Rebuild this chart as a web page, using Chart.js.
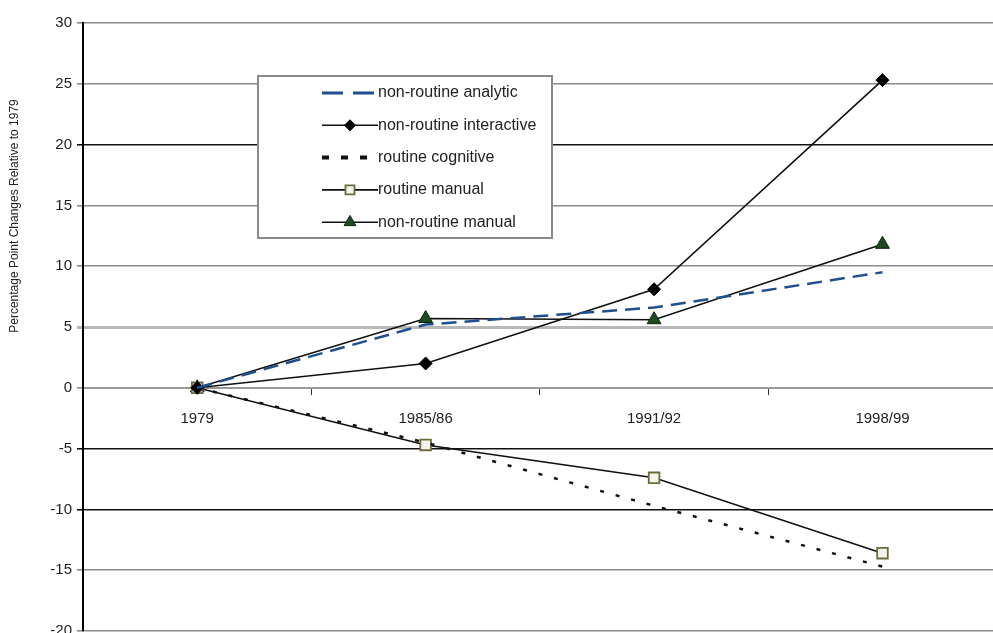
<!DOCTYPE html>
<html>
<head>
<meta charset="utf-8">
<script src="https://cdn.jsdelivr.net/npm/chart.js@4/dist/chart.umd.min.js"></script>
<style>
  html, body { margin: 0; padding: 0; background: #fff; overflow: hidden; }
  #wrap { position: relative; width: 1006px; height: 645px; }
</style>
</head>
<body>
<div id="wrap"><canvas id="c"></canvas></div>
<script>
const categories = ['1979', '1985/86', '1991/92', '1998/99'];
const nonRoutineAnalytic    = [0, 5.2, 6.6, 9.5];
const nonRoutineInteractive = [0, 2.0, 8.1, 25.3];
const routineCognitive      = [0, -4.5, -9.7, -14.7];
const routineManual         = [0, -4.7, -7.4, -13.6];
const nonRoutineManual      = [0, 5.7, 5.6, 11.8];
const yMin = -20, yMax = 30, yStep = 5;
const yTitle = 'Percentage Point Changes Relative to 1979';

const FONT = "'Liberation Sans', Arial, sans-serif";

const datasets = [
  { label: 'non-routine analytic', data: nonRoutineAnalytic, borderColor: '#1f4f8f', borderWidth: 2.5,
    borderDash: [15, 8], pointRadius: 0, pointStyle: false },
  { label: 'non-routine interactive', data: nonRoutineInteractive, borderColor: '#111', borderWidth: 1.6,
    pointStyle: 'rectRot', pointRadius: 6.5, pointBackgroundColor: '#000', pointBorderColor: '#000', pointBorderWidth: 1 },
  { label: 'routine cognitive', data: routineCognitive, borderColor: '#111', borderWidth: 2.5,
    borderDash: [4, 12], pointRadius: 0, pointStyle: false },
  { label: 'routine manual', data: routineManual, borderColor: '#111', borderWidth: 1.6,
    pointStyle: 'rect', pointRadius: 7.5, pointBackgroundColor: '#f4f4ee', pointBorderColor: '#6e6b3a', pointBorderWidth: 1.8 },
  { label: 'non-routine manual', data: nonRoutineManual, borderColor: '#111', borderWidth: 1.6,
    pointStyle: 'triangle', pointRadius: 8, pointBackgroundColor: '#1e4a1e', pointBorderColor: '#0d240d', pointBorderWidth: 1 }
];
datasets.forEach(d => { d.fill = false; d.tension = 0; d.clip = false; });

function gridColor(v) {
  if (v === 20 || v === -5 || v === -10) return '#111';
  if (v === 5) return '#b8b8b8';
  return '#8c8c8c';
}

const overlay = {
  id: 'overlay',
  afterDraw(chart) {
    const ctx = chart.ctx, ca = chart.chartArea;
    // y-axis title
    ctx.save();
    ctx.translate(15, ca.top + 193);
    ctx.rotate(-Math.PI / 2);
    ctx.font = '12px ' + FONT;
    ctx.fillStyle = '#222';
    ctx.textAlign = 'center';
    ctx.textBaseline = 'middle';
    ctx.fillText(yTitle, 0, 0);
    ctx.restore();

    // legend box
    const bx = ca.left + 175, by = ca.top + 53, bw = 294, bh = 162;
    ctx.save();
    ctx.fillStyle = '#fff';
    ctx.fillRect(bx, by, bw, bh);
    ctx.strokeStyle = '#8a8a8a';
    ctx.lineWidth = 2;
    ctx.strokeRect(bx, by, bw, bh);
    ctx.font = '16px ' + FONT;
    ctx.textBaseline = 'middle';
    chart.data.datasets.forEach((ds, i) => {
      const y = by + 17 + i * 32.3;
      const x0 = bx + 64, x1 = bx + 120;
      ctx.save();
      ctx.strokeStyle = ds.borderColor;
      ctx.lineWidth = ds.borderDash ? (i === 2 ? 4 : 3) : 1.6;
      ctx.setLineDash(ds.borderDash ? (i === 0 ? [21, 10] : [7, 12]) : []);
      ctx.beginPath(); ctx.moveTo(x0, y); ctx.lineTo(x1, y); ctx.stroke();
      ctx.restore();
      if (ds.pointStyle) {
        const opts = { pointStyle: ds.pointStyle, radius: ds.pointRadius * 0.85, borderWidth: ds.pointBorderWidth, rotation: 0 };
        ctx.save();
        ctx.fillStyle = ds.pointBackgroundColor;
        ctx.strokeStyle = ds.pointBorderColor;
        ctx.lineWidth = ds.pointBorderWidth;
        Chart.helpers.drawPoint(ctx, opts, (x0 + x1) / 2, y);
        ctx.restore();
      }
      ctx.fillStyle = '#222';
      ctx.textAlign = 'left';
      ctx.fillText(ds.label, x1, y);
    });
    ctx.restore();
  }
};

new Chart(document.getElementById('c'), {
  type: 'line',
  data: { labels: categories, datasets },
  plugins: [overlay],
  options: {
    responsive: true,
    maintainAspectRatio: false,
    animation: false,
    layout: { padding: { top: 23, right: 1, bottom: 0, left: 0 } },
    plugins: { legend: { display: false }, tooltip: { enabled: false } },
    scales: {
      x: {
        type: 'category',
        position: { y: 0 },
        offset: true,
        grid: { display: true, drawOnChartArea: false, drawTicks: true, tickLength: 6, color: '#333', offset: true, lineWidth: 1 },
        border: { display: true, color: '#999', width: 2 },
        ticks: { color: '#222', font: { family: FONT, size: 15 }, padding: 16, maxRotation: 0 }
      },
      y: {
        min: yMin, max: yMax,
        afterFit(scale) { scale.width = 83; },
        grid: {
          color: c => gridColor(c.tick ? c.tick.value : null),
          lineWidth: c => (c.tick && c.tick.value === 5) ? 3 : 1.6,
          tickLength: 6, drawTicks: true
        },
        border: { display: true, color: '#000', width: 2 },
        ticks: { stepSize: yStep, color: '#222', font: { family: FONT, size: 15 }, padding: 5 }
      }
    }
  }
});
</script>
</body>
</html>
